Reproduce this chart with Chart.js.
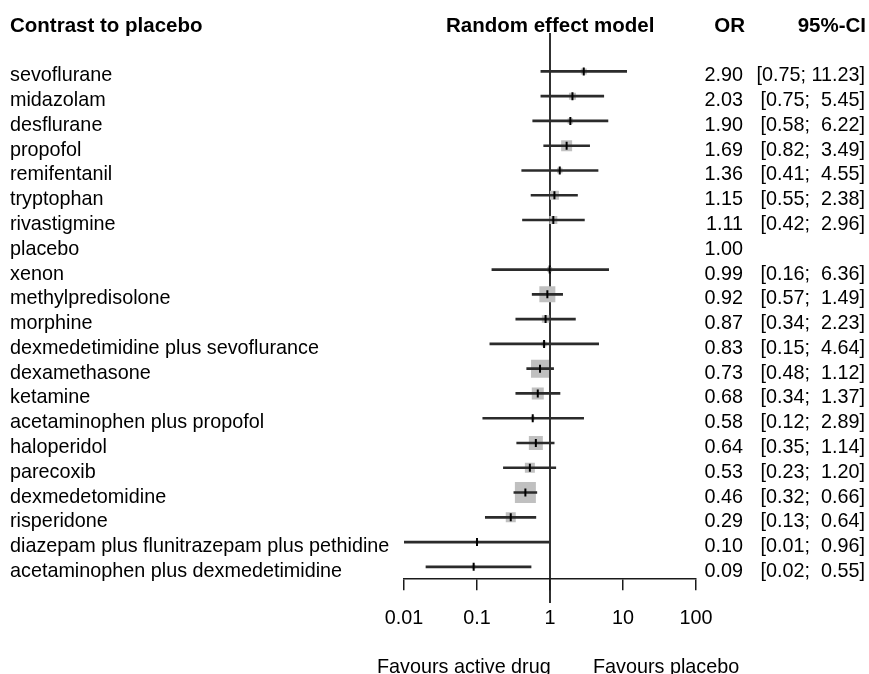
<!DOCTYPE html>
<html>
<head>
<meta charset="utf-8">
<title>Contrast to placebo - forest plot</title>
<script src="https://cdn.jsdelivr.net/npm/chart.js@4"></script>
<style>
  html, body { margin: 0; padding: 0; background: #fff; }
  #wrap { width: 869px; height: 674px; position: relative; }
</style>
</head>
<body>
<div id="wrap"><canvas id="forest"></canvas></div>
<script>
// --- Data ---
const treatments = [
  'sevoflurane', 'midazolam', 'desflurane', 'propofol', 'remifentanil',
  'tryptophan', 'rivastigmine', 'placebo', 'xenon', 'methylpredisolone',
  'morphine', 'dexmedetimidine plus sevoflurance', 'dexamethasone', 'ketamine',
  'acetaminophen plus propofol', 'haloperidol', 'parecoxib', 'dexmedetomidine',
  'risperidone', 'diazepam plus flunitrazepam plus pethidine',
  'acetaminophen plus dexmedetimidine'
];
const oddsRatio = [2.90, 2.03, 1.90, 1.69, 1.36, 1.15, 1.11, 1.00, 0.99, 0.92, 0.87,
  0.83, 0.73, 0.68, 0.58, 0.64, 0.53, 0.46, 0.29, 0.10, 0.09];
const ciLower = [0.75, 0.75, 0.58, 0.82, 0.41, 0.55, 0.42, null, 0.16, 0.57, 0.34,
  0.15, 0.48, 0.34, 0.12, 0.35, 0.23, 0.32, 0.13, 0.01, 0.02];
const ciUpper = [11.23, 5.45, 6.22, 3.49, 4.55, 2.38, 2.96, null, 6.36, 1.49, 2.23,
  4.64, 1.12, 1.37, 2.89, 1.14, 1.20, 0.66, 0.64, 0.96, 0.55];
// relative weight of each comparison (drives box size)
const weights = [6, 7, 5.5, 11, 5.5, 9, 8, 0, 5, 16, 7.5, 5, 18, 12, 4, 14, 10, 21, 10, 3, 4];
const xTicks = [0.01, 0.1, 1, 10, 100];
const xTickLabels = ['0.01', '0.1', '1', '10', '100'];

// --- Config ---
const FONT = 'Liberation Sans, Arial, Helvetica, sans-serif';
const COLORS = { text: '#000', line: '#2b2b2b', box: '#c0c0c0', axis: '#1a1a1a' };

const ciText = (i) => {
  if (ciLower[i] == null) return '';
  return '[' + ciLower[i].toFixed(2) + '; ' + ciUpper[i].toFixed(2).padStart(5, ' ') + ']';
};

// text columns, headers, reference line
const forestText = {
  id: 'forestText',
  beforeDatasetsDraw(chart) {
    const { ctx, scales: { x } } = chart;
    const x1 = x.getPixelForValue(1);
    ctx.save();
    ctx.strokeStyle = COLORS.axis;
    ctx.lineWidth = 1.8;
    ctx.beginPath();
    ctx.moveTo(x1, 33);
    ctx.lineTo(x1, 603);
    ctx.stroke();
    ctx.restore();
  },
  afterDraw(chart) {
    const { ctx, scales: { y } } = chart;
    ctx.save();
    ctx.fillStyle = COLORS.text;
    ctx.textBaseline = 'alphabetic';

    // headers
    ctx.font = 'bold 20.5px ' + FONT;
    ctx.textAlign = 'left';
    ctx.fillText('Contrast to placebo', 10, 32);
    ctx.fillText('Random effect model', 446, 32);
    ctx.textAlign = 'right';
    ctx.fillText('OR', 745, 32);
    ctx.fillText('95%-CI', 866, 32);

    // rows
    ctx.font = '19.8px ' + FONT;
    treatments.forEach((name, i) => {
      const py = y.getPixelForValue(i) + 10;
      ctx.textAlign = 'left';
      ctx.fillText(name, 10, py);
      ctx.textAlign = 'right';
      ctx.fillText(oddsRatio[i].toFixed(2), 743, py);
      ctx.fillText(ciText(i), 865, py);
    });

    // favours labels
    ctx.textAlign = 'left';
    ctx.fillText('Favours active drug', 377, 673);
    ctx.fillText('Favours placebo', 593, 673);
    ctx.restore();
  }
};

document.addEventListener('DOMContentLoaded', () => {
  const ctx = document.getElementById('forest').getContext('2d');

  new Chart(ctx, {
    type: 'bar',
    data: {
      labels: treatments,
      datasets: [
        {
          // vertical tick at point estimate
          type: 'scatter',
          order: 1,
          data: treatments.map((t, i) => ({ x: oddsRatio[i], y: t })),
          pointStyle: 'line',
          rotation: 90,
          pointRadius: ciLower.map(v => (v == null ? 0 : 4)),
          borderColor: '#000',
          borderWidth: 2,
          backgroundColor: '#000'
        },
        {
          // confidence interval lines
          type: 'bar',
          order: 2,
          data: treatments.map((t, i) => (ciLower[i] == null ? null : [ciLower[i], ciUpper[i]])),
          backgroundColor: COLORS.line,
          borderWidth: 0,
          barThickness: 2
        },
        {
          // weight boxes
          type: 'scatter',
          order: 3,
          data: treatments.map((t, i) => ({ x: oddsRatio[i], y: t })),
          pointStyle: 'rect',
          pointRadius: weights.map(w => w / Math.SQRT2),
          backgroundColor: COLORS.box,
          borderWidth: 0
        }
      ]
    },
    options: {
      indexAxis: 'y',
      responsive: true,
      maintainAspectRatio: false,
      animation: false,
      layout: { padding: { left: 404, right: 173, top: 59, bottom: 28 } },
      plugins: {
        legend: { display: false },
        tooltip: { enabled: false }
      },
      scales: {
        y: {
          type: 'category',
          display: false,
          offset: true
        },
        x: {
          type: 'logarithmic',
          min: 0.01,
          max: 100,
          afterBuildTicks: (scale) => {
            scale.ticks = xTicks.map(v => ({ value: v }));
          },
          grid: {
            drawOnChartArea: false,
            drawTicks: true,
            tickLength: 11,
            color: COLORS.axis,
            lineWidth: 1.5
          },
          border: { display: true, color: COLORS.axis, width: 1.5 },
          ticks: {
            padding: 16,
            autoSkip: false,
            maxRotation: 0,
            color: COLORS.text,
            font: { family: FONT, size: 19.8 },
            callback: (val, idx) => xTickLabels[idx]
          }
        }
      }
    },
    plugins: [forestText]
  });
});
</script>
</body>
</html>
